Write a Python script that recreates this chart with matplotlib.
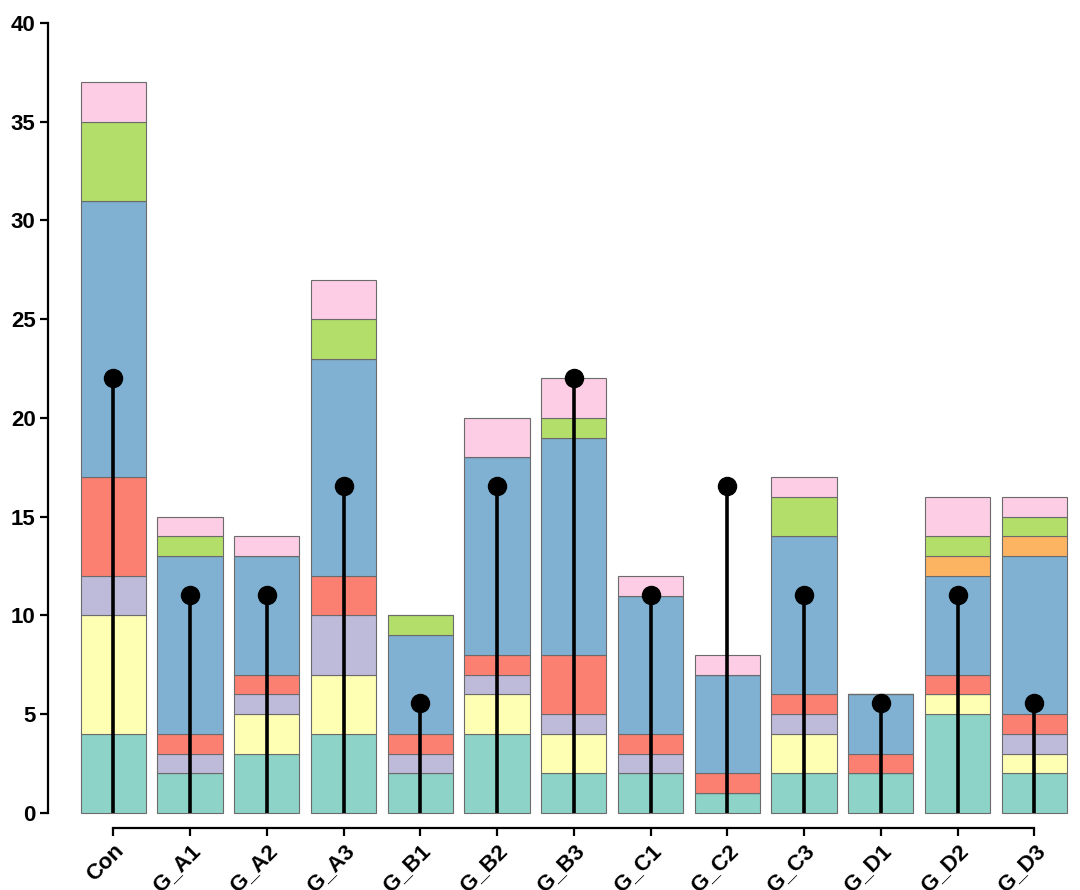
import numpy as np
import matplotlib
matplotlib.use("Agg")
import matplotlib.pyplot as plt

# sample groups
groups = ['Con', 'G_A1', 'G_A2', 'G_A3', 'G_B1', 'G_B2', 'G_B3',
          'G_C1', 'G_C2', 'G_C3', 'G_D1', 'G_D2', 'G_D3']

# stacked layers, bottom to top
teal     = [4, 2, 3, 4, 2, 4, 2, 2, 1, 2, 2, 5, 2]
yellow   = [6, 0, 2, 3, 0, 2, 2, 0, 0, 2, 0, 1, 1]
lavender = [2, 1, 1, 3, 1, 1, 1, 1, 0, 1, 0, 0, 1]
salmon   = [5, 1, 1, 2, 1, 1, 3, 1, 1, 1, 1, 1, 1]
blue     = [14, 9, 6, 11, 5, 10, 11, 7, 5, 8, 3, 5, 8]
orange   = [0, 0, 0, 0, 0, 0, 0, 0, 0, 0, 0, 1, 1]
green    = [4, 1, 0, 2, 1, 0, 1, 0, 0, 2, 0, 1, 1]
pink     = [2, 1, 1, 2, 0, 2, 2, 1, 1, 1, 0, 2, 1]

# lollipop values
stem = [22.05, 11.06, 11.06, 16.55, 5.55, 16.55, 22.05,
        11.06, 16.55, 11.06, 5.55, 11.06, 5.55]

layers = [teal, yellow, lavender, salmon, blue, orange, green, pink]
colors = ['#8DD3C7', '#FFFFB3', '#BEBADA', '#FB8072',
          '#80B1D3', '#FDB462', '#B3DE69', '#FCCDE5']

fig = plt.figure(figsize=(10.8, 8.9), dpi=100)
ax = fig.add_axes([48 / 1080, 62 / 890, 1027 / 1080, 805 / 890])

x = np.arange(len(groups))
bottom = np.zeros(len(groups))
for vals, col in zip(layers, colors):
    vals = np.array(vals, dtype=float)
    ax.bar(x, vals, bottom=bottom, width=0.85, color=col,
           edgecolor='#6b6b6b', linewidth=0.8, zorder=2)
    bottom += vals

ax.vlines(x, 0, stem, color='black', linewidth=2.6, zorder=3)
ax.plot(x, stem, 'o', color='black', markersize=13, zorder=4)

ax.set_xlim(-0.85, 12.53)
ax.set_ylim(-0.76, 40)
ax.set_yticks([0, 5, 10, 15, 20, 25, 30, 35, 40])
ax.set_xticks(x)
ax.set_xticklabels(groups, rotation=45, ha='right', rotation_mode='anchor')

for s in ['top', 'right']:
    ax.spines[s].set_visible(False)
ax.spines['left'].set_bounds(0, 40)
ax.spines['bottom'].set_bounds(0, 12)
for s in ['left', 'bottom']:
    ax.spines[s].set_linewidth(1.6)

ax.tick_params(axis='both', length=6, width=1.6, labelsize=16, pad=3)
for lab in ax.get_xticklabels() + ax.get_yticklabels():
    lab.set_fontweight('bold')
    lab.set_family('Liberation Sans')

fig.savefig('out.png', dpi=100)
